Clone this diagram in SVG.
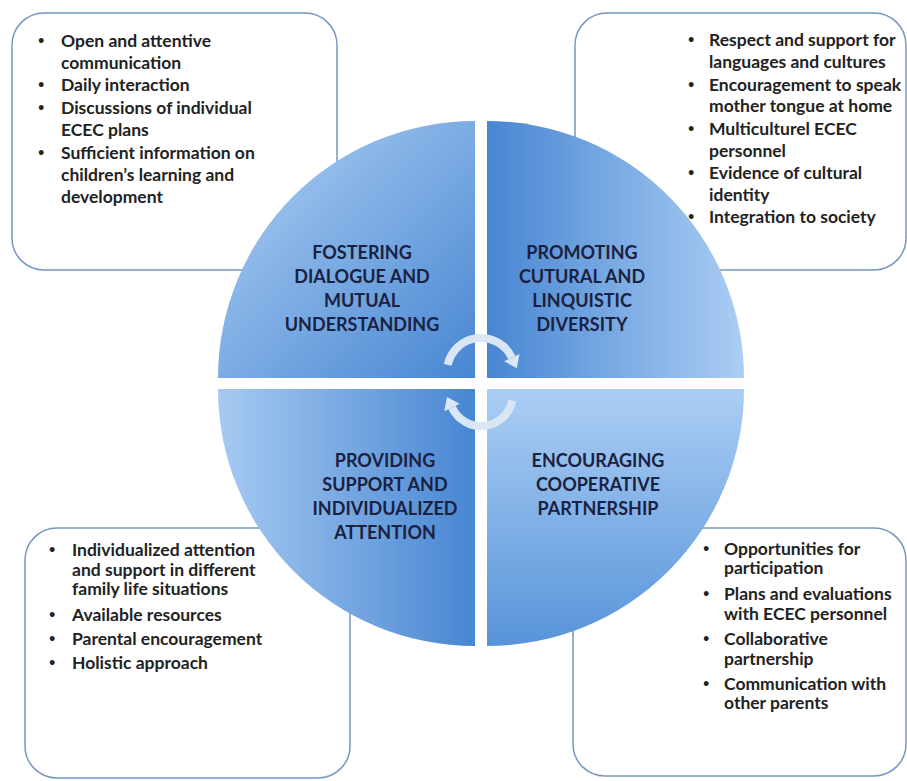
<svg xmlns="http://www.w3.org/2000/svg" width="907" height="781" viewBox="0 0 907 781">
<defs>
<linearGradient id="gTL" x1="0" y1="0" x2="1" y2="1"><stop offset="0" stop-color="#b0d2f5"/><stop offset="1" stop-color="#4886d2"/></linearGradient>
<linearGradient id="gTR" x1="0" y1="0" x2="1" y2="0"><stop offset="0" stop-color="#4886d2"/><stop offset="1" stop-color="#abcef4"/></linearGradient>
<linearGradient id="gBL" x1="0" y1="0" x2="1" y2="0"><stop offset="0" stop-color="#a6caf2"/><stop offset="1" stop-color="#4886d2"/></linearGradient>
<linearGradient id="gBR" x1="0" y1="0" x2="0" y2="1"><stop offset="0" stop-color="#abcef4"/><stop offset="1" stop-color="#5894da"/></linearGradient>
<style>
.box{fill:#ffffff;stroke:#7797c0;stroke-width:1.5}
.bt{font-family:Lato,"Liberation Sans",sans-serif;font-weight:bold;font-size:17.5px;fill:#222222}
.bu{font-family:Lato,"Liberation Sans",sans-serif;font-weight:bold;font-size:11px;fill:#222222}
.tt{font-family:Lato,"Liberation Sans",sans-serif;font-weight:bold;font-size:18px;fill:#1b2140;text-anchor:middle}
.arc{fill:none;stroke:#d8e6f6;stroke-width:8}
.head{fill:#d8e6f6}
</style>
</defs>
<rect width="907" height="781" fill="#ffffff"/>

<g id="box-tl">
<rect class="box" x="12" y="13" width="325" height="257" rx="32"/>
<text class="bu"><tspan x="38" y="44">•</tspan><tspan x="38" y="88">•</tspan><tspan x="38" y="111">•</tspan><tspan x="38" y="156">•</tspan></text>
<text class="bt"><tspan x="61" y="47">Open and attentive</tspan><tspan x="61" y="68.5">communication</tspan><tspan x="61" y="91">Daily interaction</tspan><tspan x="61" y="114">Discussions of individual</tspan><tspan x="61" y="136">ECEC plans</tspan><tspan x="61" y="159">Sufficient information on</tspan><tspan x="61" y="181">children’s learning and</tspan><tspan x="61" y="203">development</tspan></text>
</g>

<g id="box-tr">
<rect class="box" x="575" y="13" width="331" height="257" rx="32"/>
<text class="bu"><tspan x="688" y="43">•</tspan><tspan x="688" y="87.5">•</tspan><tspan x="688" y="132">•</tspan><tspan x="688" y="176">•</tspan><tspan x="688" y="220">•</tspan></text>
<text class="bt"><tspan x="709" y="46">Respect and support for</tspan><tspan x="709" y="67.5">languages and cultures</tspan><tspan x="709" y="90.5">Encouragement to speak</tspan><tspan x="709" y="112">mother tongue at home</tspan><tspan x="709" y="135">Multiculturel ECEC</tspan><tspan x="709" y="156.5">personnel</tspan><tspan x="709" y="179">Evidence of cultural</tspan><tspan x="709" y="200.5">identity</tspan><tspan x="709" y="223">Integration to society</tspan></text>
</g>

<g id="box-bl">
<rect class="box" x="25" y="528" width="325" height="250" rx="32"/>
<text class="bu"><tspan x="49" y="553">•</tspan><tspan x="49" y="618">•</tspan><tspan x="49" y="642">•</tspan><tspan x="49" y="666">•</tspan></text>
<text class="bt"><tspan x="72" y="556">Individualized attention</tspan><tspan x="72" y="575.5">and support in different</tspan><tspan x="72" y="595">family life situations</tspan><tspan x="72" y="621">Available resources</tspan><tspan x="72" y="645">Parental encouragement</tspan><tspan x="72" y="669">Holistic approach</tspan></text>
</g>

<g id="box-br">
<rect class="box" x="573" y="528" width="333" height="248" rx="32"/>
<text class="bu"><tspan x="703" y="552">•</tspan><tspan x="703" y="597">•</tspan><tspan x="703" y="642">•</tspan><tspan x="703" y="687">•</tspan></text>
<text class="bt"><tspan x="724" y="555">Opportunities for</tspan><tspan x="724" y="574">participation</tspan><tspan x="724" y="600">Plans and evaluations</tspan><tspan x="724" y="620">with ECEC personnel</tspan><tspan x="724" y="645">Collaborative</tspan><tspan x="724" y="665">partnership</tspan><tspan x="724" y="690">Communication with</tspan><tspan x="724" y="709">other parents</tspan></text>
</g>

<g id="q-tl">
<path d="M475,378 L218,378 A257,257 0 0,1 475,121 Z" fill="url(#gTL)"/>
<text class="tt"><tspan x="362" y="259">FOSTERING</tspan><tspan x="362" y="283">DIALOGUE AND</tspan><tspan x="362" y="307">MUTUAL</tspan><tspan x="362" y="331">UNDERSTANDING</tspan></text>
</g>

<g id="q-tr">
<path d="M487,378 L487,121 A257,257 0 0,1 744,378 Z" fill="url(#gTR)"/>
<text class="tt"><tspan x="582" y="259">PROMOTING</tspan><tspan x="582" y="283">CUTURAL AND</tspan><tspan x="582" y="307">LINQUISTIC</tspan><tspan x="582" y="331">DIVERSITY</tspan></text>
</g>

<g id="q-bl">
<path d="M475,389 L475,646 A257,257 0 0,1 218,389 Z" fill="url(#gBL)"/>
<text class="tt"><tspan x="385" y="467">PROVIDING</tspan><tspan x="385" y="491">SUPPORT AND</tspan><tspan x="385" y="515">INDIVIDUALIZED</tspan><tspan x="385" y="539">ATTENTION</tspan></text>
</g>

<g id="q-br">
<path d="M487,389 L744,389 A257,257 0 0,1 487,646 Z" fill="url(#gBR)"/>
<text class="tt"><tspan x="598" y="467">ENCOURAGING</tspan><tspan x="598" y="491">COOPERATIVE</tspan><tspan x="598" y="515">PARTNERSHIP</tspan></text>
</g>

<g id="connectors">
<path class="arc" d="M447.7,364.9 A34,34 0 0,1 511.8,357.6"/>
<polygon class="head" points="519.5,353.9 504.1,361.3 516.8,368.2"/>
<path class="arc" d="M512.3,400.7 A32,32 0 0,1 452,407.5"/>
<polygon class="head" points="444.2,411.2 459.7,403.8 447,396.9"/>
</g>
</svg>
